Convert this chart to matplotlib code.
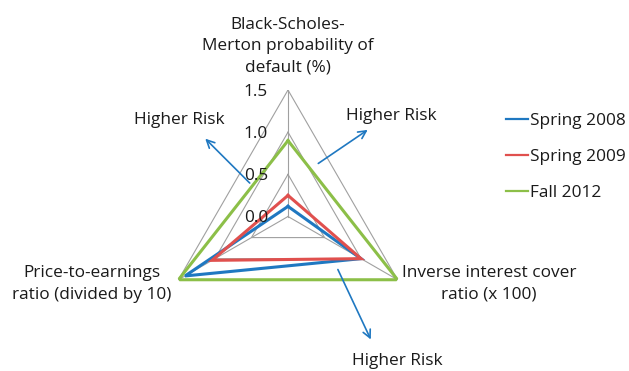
import matplotlib
matplotlib.use("Agg")
import matplotlib.pyplot as plt
import numpy as np
from matplotlib.patches import FancyArrowPatch

plt.rcParams["font.family"] = ["Open Sans", "DejaVu Sans"]

# ---- data -------------------------------------------------------------
categories = [
    "Black-Scholes-\nMerton probability of\ndefault (%)",
    "Inverse interest cover\nratio (x 100)",
    "Price-to-earnings\nratio (divided by 10)",
]
series_names = ["Spring 2008", "Spring 2009", "Fall 2012"]
spring_2008 = [0.12, 1.00, 1.41]
spring_2009 = [0.25, 1.00, 1.04]
fall_2012 = [0.90, 1.50, 1.50]
r_ticks = [0.0, 0.5, 1.0, 1.5]
r_tick_labels = ["0.0", "0.5", "1.0", "1.5"]

colors = ["#1f78c1", "#e0504e", "#8cbf48"]
arrow_color = "#1f78c1"
grid_color = "#a0a0a0"
text_color = "#1a1a1a"

W, H = 629, 371
fig = plt.figure(figsize=(W / 100, H / 100), dpi=100)


def px(x, y):
    """Pixel position (from top-left) to figure fraction."""
    return (x / W, 1 - y / H)


# radar axes: centre and radius in pixels
cx, cy, R = 288, 216.5, 126.5
ax = fig.add_axes([(cx - R) / W, (H - cy - R) / H, 2 * R / W, 2 * R / H],
                  projection="polar")
ax.set_theta_zero_location("N")
ax.set_theta_direction(-1)
ax.set_ylim(0, max(r_ticks))
ax.grid(False)
ax.spines["polar"].set_visible(False)
ax.set_xticks([])
ax.set_yticks([])
ax.patch.set_alpha(0)

n = len(categories)
angles = np.arange(n) * 2 * np.pi / n
closed = np.append(angles, angles[0])

# triangular grid and spokes
for r in r_ticks[1:]:
    ax.plot(closed, [r] * (n + 1), color=grid_color, lw=0.8, zorder=1)
for a in angles:
    ax.plot([a, a], [0, max(r_ticks)], color=grid_color, lw=0.8, zorder=1)

# series
for name, vals, c in zip(series_names, [spring_2008, spring_2009, fall_2012], colors):
    ax.plot(closed, vals + vals[:1], color=c, lw=2.2, label=name, zorder=3,
            solid_joinstyle="miter")

fs = 12.4

# radial tick labels along the top spoke
for r, lab in zip(r_ticks, r_tick_labels):
    ax.annotate(lab, xy=(0, r), xytext=(-20, -2), textcoords="offset pixels",
                ha="right", va="center", fontsize=fs, color=text_color,
                annotation_clip=False)

# category labels
fig.text(*px(288, 46.5), categories[0], ha="center", va="center", fontsize=fs,
         linespacing=1.45, color=text_color)
fig.text(*px(489, 284), categories[1], ha="center", va="center", fontsize=fs,
         linespacing=1.45, color=text_color)
fig.text(*px(92, 284), categories[2], ha="center", va="center", fontsize=fs,
         linespacing=1.45, color=text_color)

# "Higher Risk" arrows
arrows = [
    ((251.7, 185), (203.3, 136.7), (179, 120)),
    ((316, 165), (370, 128.3), (391, 116)),
    ((336.7, 267), (372, 342), (397, 361)),
]
for tail, head, txt in arrows:
    fig.add_artist(FancyArrowPatch(px(*tail), px(*head), transform=fig.transFigure,
                                   arrowstyle="->", mutation_scale=14,
                                   color=arrow_color, lw=1.2))
    fig.text(*px(*txt), "Higher Risk", ha="center", va="center", fontsize=fs,
             color=text_color)

# legend
leg = fig.legend(loc="center left", bbox_to_anchor=px(506, 156.7), frameon=False,
                 fontsize=fs, handlelength=1.3, handletextpad=0.1,
                 labelspacing=1.15, borderpad=0, borderaxespad=0)
for line in leg.get_lines():
    line.set_linewidth(1.6)
for t in leg.get_texts():
    t.set_color(text_color)

fig.savefig("out.png", dpi=100)
